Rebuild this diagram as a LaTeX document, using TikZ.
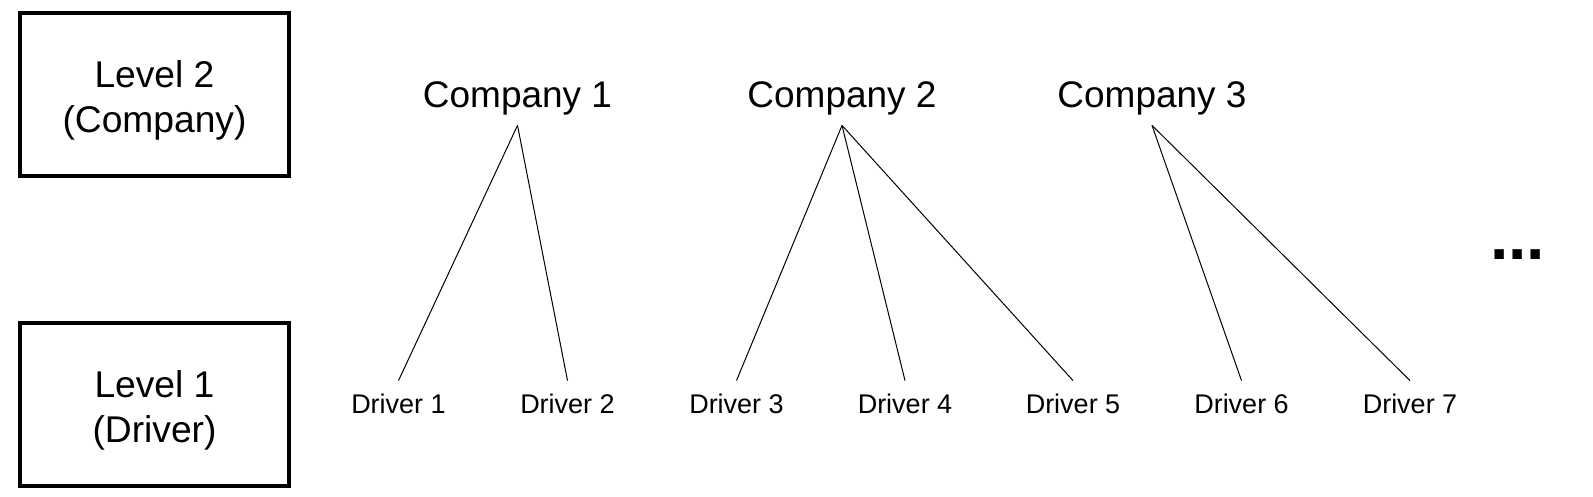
\documentclass[tikz,border=0pt]{standalone}
\usepackage{fontspec}
\setmainfont{Liberation Sans}
\begin{document}
\begin{tikzpicture}[x=0.5pt,y=-0.5pt,
  levelbox/.style={draw, line width=2pt, minimum width=134.5pt, minimum height=81.5pt,
    inner sep=0pt},
  leveltext/.style={inner sep=0pt, align=center, font=\fontsize{18.6pt}{22.5pt}\selectfont},
  company/.style={anchor=base, inner xsep=0pt, inner ysep=8.5pt, text depth=0pt,
    font=\fontsize{18.5pt}{22pt}\selectfont},
  driver/.style={anchor=base, inner xsep=0pt, inner ysep=6.5pt, text height=9.5pt,
    font=\fontsize{13.5pt}{16pt}\selectfont},
  link/.style={line width=0.5pt},
  dotsstyle/.style={anchor=base, inner sep=0pt, font=\fontsize{33pt}{36pt}\selectfont\bfseries}
]
\useasboundingbox (0,0) rectangle (1593,497);
\node[levelbox] (lv2) at (154.5,94.5) {};
\node[leveltext] (lv2t) at (154.5,100) {Level 2\\(Company)};
\node[levelbox] (lv1) at (154.5,404.5) {};
\node[leveltext] (lv1t) at (154.5,410) {Level 1\\(Driver)};
\node[company] (c1) at (517.5,108) {Company 1};
\node[company] (c2) at (842,108) {Company 2};
\node[company] (c3) at (1152,108) {Company 3};
\node[driver] (d1) at (398.5,413) {Driver 1};
\node[driver] (d2) at (567.5,413) {Driver 2};
\node[driver] (d3) at (736.5,413) {Driver 3};
\node[driver] (d4) at (905,413) {Driver 4};
\node[driver] (d5) at (1073,413) {Driver 5};
\node[driver] (d6) at (1241.5,413) {Driver 6};
\node[driver] (d7) at (1410,413) {Driver 7};
\node[dotsstyle] (more) at (1517.5,259) {...};
\draw[link] (c1.south) -- (d1.north);
\draw[link] (c1.south) -- (d2.north);
\draw[link] (c2.south) -- (d3.north);
\draw[link] (c2.south) -- (d4.north);
\draw[link] (c2.south) -- (d5.north);
\draw[link] (c3.south) -- (d6.north);
\draw[link] (c3.south) -- (d7.north);
\end{tikzpicture}
\end{document}
